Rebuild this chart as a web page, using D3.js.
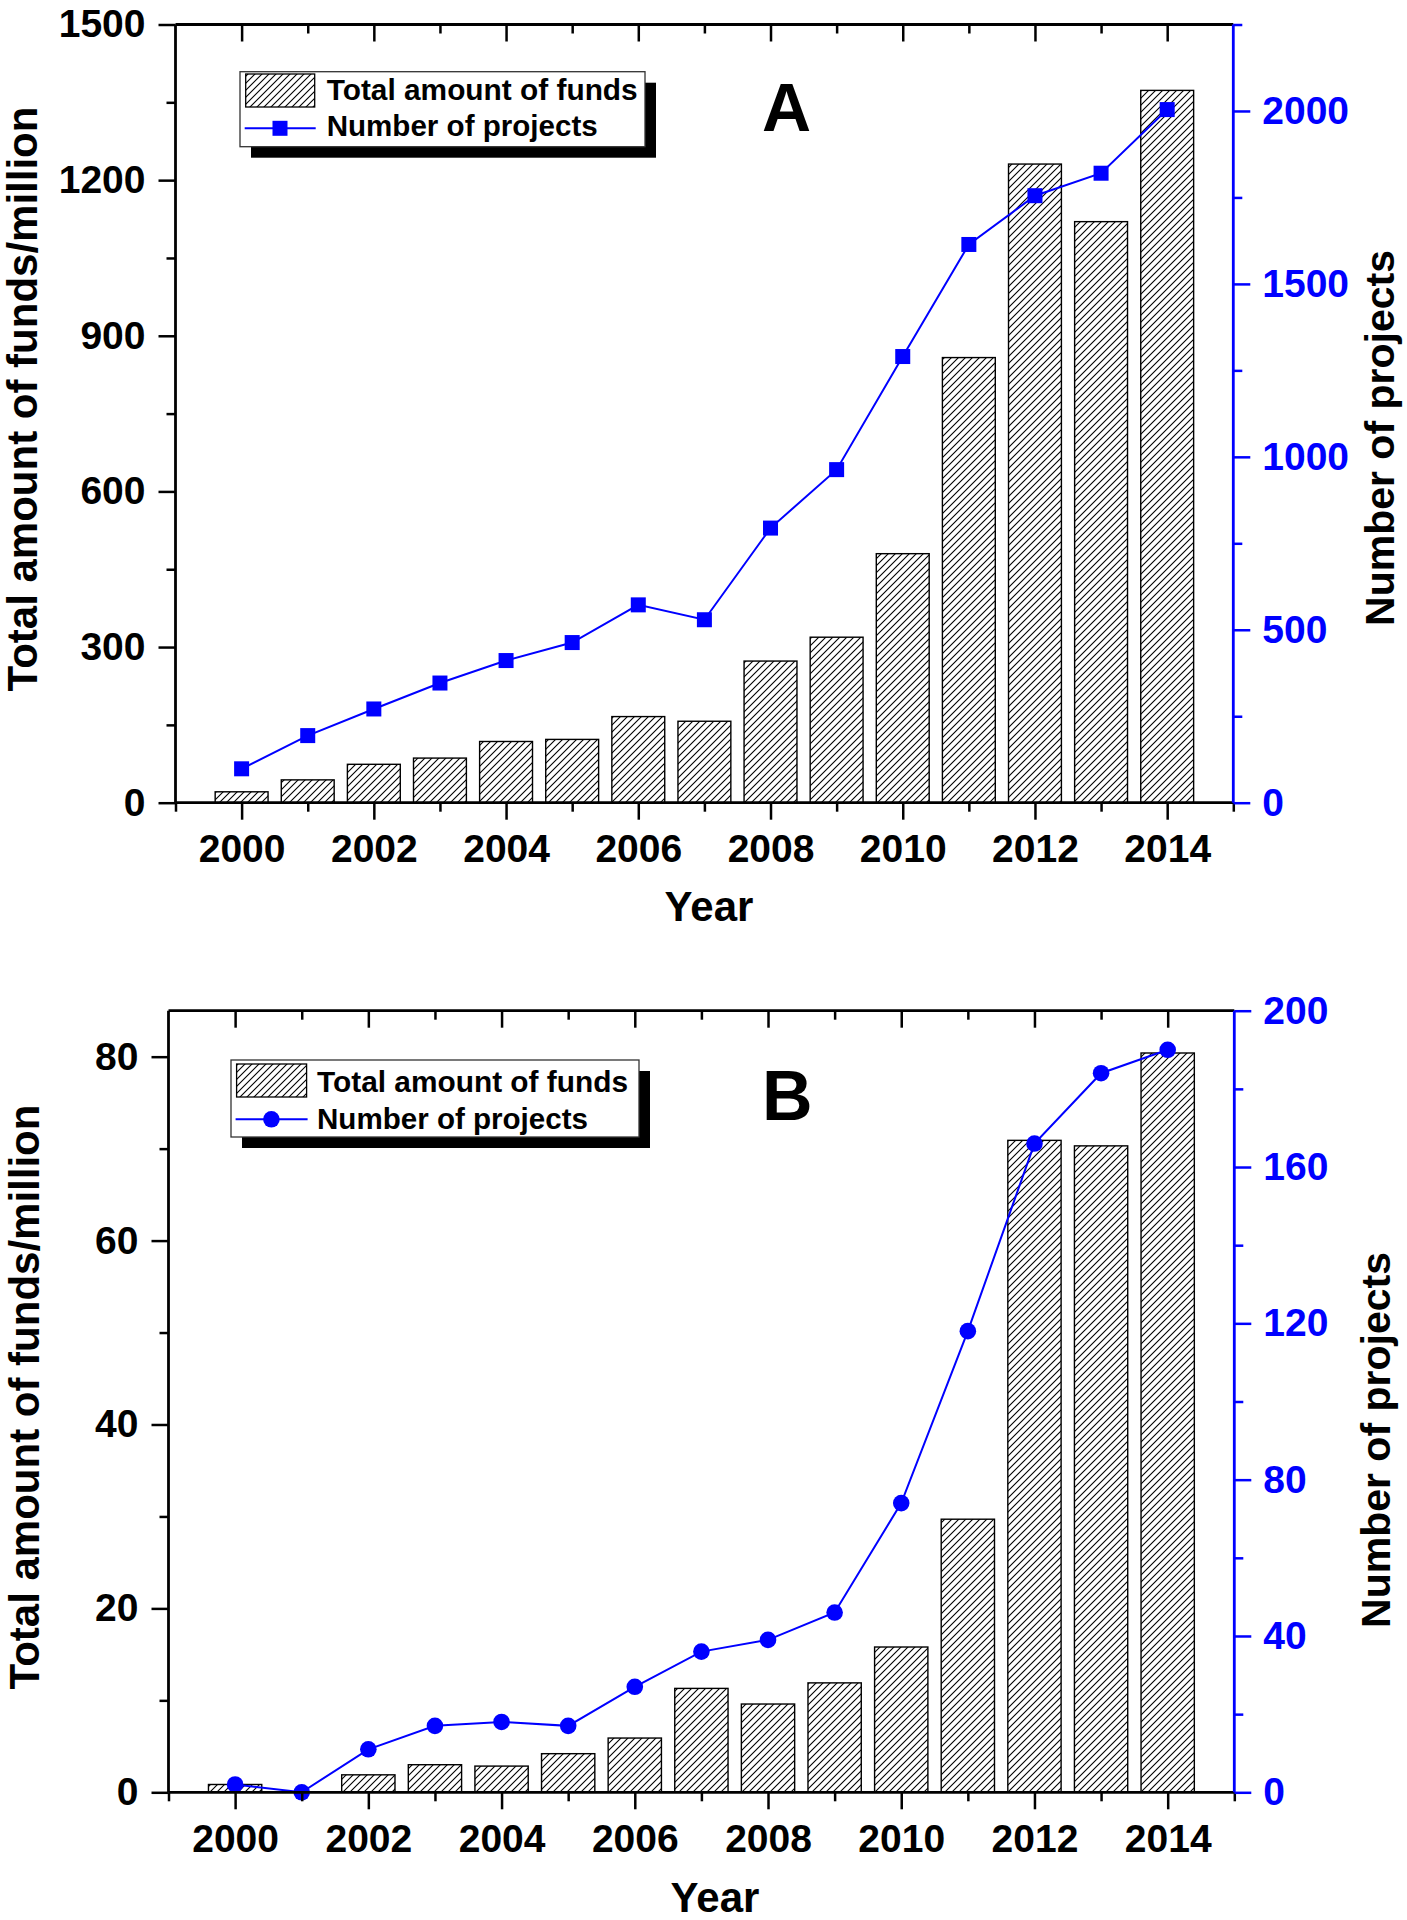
<!DOCTYPE html>
<html>
<head>
<meta charset="utf-8">
<script src="https://cdn.jsdelivr.net/npm/d3@7"></script>
<style>
  html, body { margin: 0; padding: 0; background: #fff; }
  svg { display: block; }
  text { font-family: "Liberation Sans", Arial, sans-serif; font-weight: bold; }
</style>
</head>
<body>
<svg id="chart" width="1407" height="1920"></svg>
<script>
// ---------- DATA ----------
const years = [2000, 2001, 2002, 2003, 2004, 2005, 2006, 2007, 2008, 2009, 2010, 2011, 2012, 2013, 2014];
const xTickLabels = [2000, 2002, 2004, 2006, 2008, 2010, 2012, 2014];
const xMinorTicks = [1999, 2001, 2003, 2005, 2007, 2009, 2011, 2013, 2015];

// Panel A
const fundsA    = [21, 44, 74, 86, 118, 122, 166, 157, 273, 319, 480, 858, 1231, 1120, 1373];
const projectsA = [98, 194, 271, 346, 411, 463, 572, 529, 794, 963, 1290, 1614, 1755, 1820, 2004];
const leftTicksA  = [0, 300, 600, 900, 1200, 1500];
const leftMinorA  = [150, 450, 750, 1050, 1350];
const rightTicksA = [0, 500, 1000, 1500, 2000];
const rightMinorA = [250, 750, 1250, 1750, 2250];

// Panel B
const fundsB    = [0.85, 0, 1.9, 3.0, 2.85, 4.2, 5.9, 11.3, 9.6, 11.9, 15.8, 29.7, 70.9, 70.3, 80.4];
const projectsB = [2, 0, 11, 17, 18, 17, 27, 36, 39, 46, 74, 118, 166, 184, 190];
const leftTicksB  = [0, 20, 40, 60, 80];
const leftMinorB  = [10, 30, 50, 70];
const rightTicksB = [0, 40, 80, 120, 160, 200];
const rightMinorB = [20, 60, 100, 140, 180];

const legendLabels = ["Total amount of funds", "Number of projects"];
const leftTitle = "Total amount of funds/million";
const rightTitle = "Number of projects";
const xTitle = "Year";

// ---------- DRAW ----------
const svg = d3.select("#chart");
const BLUE = "#0000ff";

const defs = svg.append("defs");
const pat = defs.append("pattern")
  .attr("id", "hatch").attr("patternUnits", "userSpaceOnUse")
  .attr("width", 7).attr("height", 7);
pat.append("rect").attr("width", 7).attr("height", 7).attr("fill", "#fff");
pat.append("path").attr("d", "M-1,1 l2,-2 M0,7 l7,-7 M6,8 l2,-2")
  .attr("stroke", "#000").attr("stroke-width", 1.1);

const panels = [
  {
    letter: "A", funds: fundsA, projects: projectsA,
    left: 175.5, right: 1233.3, top: 24.5, bottom: 802.7,
    yLmax: 1500, yRmax: 2250,
    lTicks: leftTicksA, lMinor: leftMinorA, rTicks: rightTicksA, rMinor: rightMinorA,
    marker: "square", curve: d3.curveLinear,
    legend: { x: 240, y: 71.7, w: 405, h: 75, textX: 326.7, swX: 245.7, swY: 74, swW: 69, swH: 33, lineY: 128.3, mX: 280, b1: 100, b2: 136 },
    letterX: 762, letterY: 131, letterSize: 68,
    lTitleX: 37, lTitleY: 399, rTitleX: 1394, rTitleY: 438, yearX: 709, yearY: 921
  },
  {
    letter: "B", funds: fundsB, projects: projectsB,
    left: 168.5, right: 1234.3, top: 1010.7, bottom: 1792.3,
    yLmax: 85, yRmax: 200,
    lTicks: leftTicksB, lMinor: leftMinorB, rTicks: rightTicksB, rMinor: rightMinorB,
    marker: "circle", curve: d3.curveLinear,
    legend: { x: 231, y: 1060, w: 408, h: 77, textX: 317, swX: 236.6, swY: 1064, swW: 70, swH: 33, lineY: 1119.3, mX: 271.4, b1: 1092, b2: 1129 },
    letterX: 762, letterY: 1120, letterSize: 70,
    lTitleX: 39, lTitleY: 1397, rTitleX: 1390, rTitleY: 1440, yearX: 715, yearY: 1912
  }
];

const legendWidths = [311, 271];

function styleAxis(g, color, fontSize) {
  g.select(".domain").remove();
  g.selectAll(".tick line").attr("stroke", color).attr("stroke-width", 2.5);
  g.selectAll(".tick text").attr("fill", color).attr("font-size", fontSize)
    .attr("font-family", "'Liberation Sans', Arial, sans-serif").attr("font-weight", "bold");
}

panels.forEach(p => {
  const g = svg.append("g");
  const x = d3.scaleLinear().domain([1999, 2015]).range([p.left, p.right]);
  const yL = d3.scaleLinear().domain([0, p.yLmax]).range([p.bottom, p.top]);
  const yR = d3.scaleLinear().domain([0, p.yRmax]).range([p.bottom, p.top]);
  const bw = 0.8;

  // bars
  g.append("g").selectAll("rect").data(years).join("rect")
    .attr("x", (d) => x(d - bw / 2))
    .attr("width", (d) => x(d + bw / 2) - x(d - bw / 2))
    .attr("y", (d, i) => yL(p.funds[i]))
    .attr("height", (d, i) => yL(0) - yL(p.funds[i]))
    .attr("fill", "url(#hatch)")
    .attr("stroke", "#000").attr("stroke-width", 1.4)
    .attr("display", (d, i) => p.funds[i] > 0 ? null : "none");

  // line
  const line = d3.line().x((d, i) => x(years[i])).y(d => yR(d)).curve(p.curve);
  g.append("path").datum(p.projects).attr("d", line)
    .attr("fill", "none").attr("stroke", BLUE).attr("stroke-width", 2);

  // markers
  if (p.marker === "square") {
    g.append("g").selectAll("rect").data(p.projects).join("rect")
      .attr("x", (d, i) => x(years[i]) - 7.5).attr("y", d => yR(d) - 7.5)
      .attr("width", 15).attr("height", 15).attr("fill", BLUE);
  } else {
    g.append("g").selectAll("circle").data(p.projects).join("circle")
      .attr("cx", (d, i) => x(years[i])).attr("cy", d => yR(d))
      .attr("r", 8.3).attr("fill", BLUE);
  }

  // axes
  const fs = 39;
  const xb = g.append("g").attr("transform", `translate(0,${p.bottom})`)
    .call(d3.axisBottom(x).tickValues(xTickLabels).tickFormat(d3.format("d")).tickSize(17).tickPadding(15));
  styleAxis(xb, "#000", fs);
  const xbm = g.append("g").attr("transform", `translate(0,${p.bottom})`)
    .call(d3.axisBottom(x).tickValues(xMinorTicks).tickFormat("").tickSize(9));
  styleAxis(xbm, "#000", fs);
  const xt = g.append("g").attr("transform", `translate(0,${p.top})`)
    .call(d3.axisTop(x).tickValues(xTickLabels).tickFormat("").tickSize(-17));
  styleAxis(xt, "#000", fs);
  const xtm = g.append("g").attr("transform", `translate(0,${p.top})`)
    .call(d3.axisTop(x).tickValues(xMinorTicks.slice(1, -1)).tickFormat("").tickSize(-9));
  styleAxis(xtm, "#000", fs);

  const yl = g.append("g").attr("transform", `translate(${p.left},0)`)
    .call(d3.axisLeft(yL).tickValues(p.lTicks).tickFormat(d3.format("d")).tickSize(17).tickPadding(13));
  styleAxis(yl, "#000", fs);
  const ylm = g.append("g").attr("transform", `translate(${p.left},0)`)
    .call(d3.axisLeft(yL).tickValues(p.lMinor).tickFormat("").tickSize(9));
  styleAxis(ylm, "#000", fs);

  const yr = g.append("g").attr("transform", `translate(${p.right},0)`)
    .call(d3.axisRight(yR).tickValues(p.rTicks).tickFormat(d3.format("d")).tickSize(17).tickPadding(12));
  styleAxis(yr, BLUE, fs);
  const yrm = g.append("g").attr("transform", `translate(${p.right},0)`)
    .call(d3.axisRight(yR).tickValues(p.rMinor).tickFormat("").tickSize(9));
  styleAxis(yrm, BLUE, fs);

  // axis lines
  g.append("line").attr("x1", p.left).attr("x2", p.right).attr("y1", p.bottom).attr("y2", p.bottom)
    .attr("stroke", "#000").attr("stroke-width", 2.8);
  g.append("line").attr("x1", p.left).attr("x2", p.right).attr("y1", p.top).attr("y2", p.top)
    .attr("stroke", "#000").attr("stroke-width", 2.8);
  g.append("line").attr("x1", p.left).attr("x2", p.left).attr("y1", p.top).attr("y2", p.bottom)
    .attr("stroke", "#000").attr("stroke-width", 2.8);
  g.append("line").attr("x1", p.right).attr("x2", p.right).attr("y1", p.top).attr("y2", p.bottom)
    .attr("stroke", BLUE).attr("stroke-width", 2.8);

  // legend
  const L = p.legend;
  const lg = g.append("g");
  lg.append("rect").attr("x", L.x + 11).attr("y", L.y + 11).attr("width", L.w).attr("height", L.h).attr("fill", "#000");
  lg.append("rect").attr("x", L.x).attr("y", L.y).attr("width", L.w).attr("height", L.h)
    .attr("fill", "#fff").attr("stroke", "#333").attr("stroke-width", 1.3);
  lg.append("rect").attr("x", L.swX).attr("y", L.swY).attr("width", L.swW).attr("height", L.swH)
    .attr("fill", "url(#hatch)").attr("stroke", "#000").attr("stroke-width", 1.3);
  lg.append("line").attr("x1", L.swX - 1).attr("x2", L.swX + L.swW + 1).attr("y1", L.lineY).attr("y2", L.lineY)
    .attr("stroke", BLUE).attr("stroke-width", 2);
  if (p.marker === "square") {
    lg.append("rect").attr("x", L.mX - 7.5).attr("y", L.lineY - 7.5).attr("width", 15).attr("height", 15).attr("fill", BLUE);
  } else {
    lg.append("circle").attr("cx", L.mX).attr("cy", L.lineY).attr("r", 8.3).attr("fill", BLUE);
  }
  lg.append("text").attr("x", L.textX).attr("y", L.b1).attr("font-size", 29)
    .attr("textLength", legendWidths[0]).attr("lengthAdjust", "spacingAndGlyphs").text(legendLabels[0]);
  lg.append("text").attr("x", L.textX).attr("y", L.b2).attr("font-size", 29)
    .attr("textLength", legendWidths[1]).attr("lengthAdjust", "spacingAndGlyphs").text(legendLabels[1]);

  // panel letter
  g.append("text").attr("x", p.letterX).attr("y", p.letterY).attr("font-size", p.letterSize).text(p.letter);

  // titles
  g.append("text").attr("transform", `translate(${p.lTitleX},${p.lTitleY}) rotate(-90)`)
    .attr("text-anchor", "middle").attr("font-size", 42).text(leftTitle);
  g.append("text").attr("transform", `translate(${p.rTitleX},${p.rTitleY}) rotate(-90)`)
    .attr("text-anchor", "middle").attr("font-size", 41).text(rightTitle);
  g.append("text").attr("x", p.yearX).attr("y", p.yearY)
    .attr("text-anchor", "middle").attr("font-size", 42).text(xTitle);
});
</script>
</body>
</html>
